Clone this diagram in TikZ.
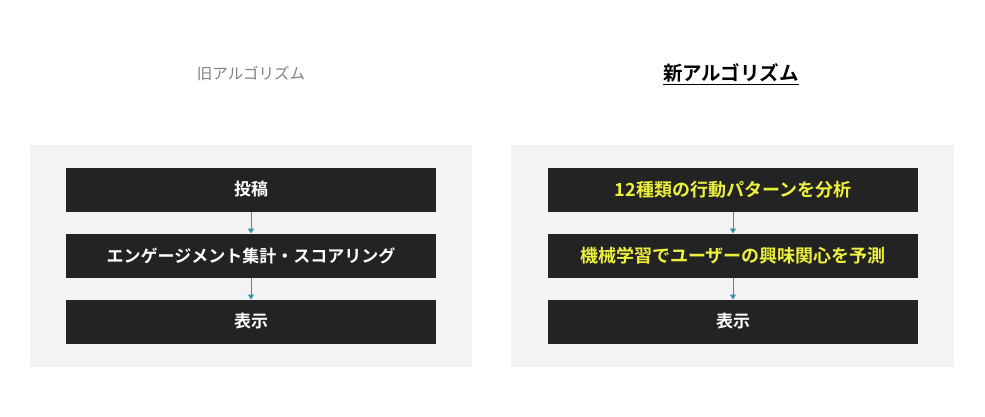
\documentclass[tikz,border=0pt]{standalone}
\usepackage{fontspec}
\setmainfont{Noto Sans CJK JP}[BoldFont={* Bold}]
\usetikzlibrary{arrows.meta}
\definecolor{panelgray}{HTML}{F3F3F3}
\definecolor{boxblack}{HTML}{232323}
\definecolor{hiyellow}{HTML}{EEF03E}
\definecolor{arrowteal}{HTML}{2A97A6}
\definecolor{titlegray}{HTML}{808080}

\begin{document}
\begin{tikzpicture}[x=1pt,y=1pt,node distance=66pt,
                    >={Triangle[length=5pt,width=6pt]},semithick]
\tikzstyle{every node}=[inner sep=0pt,outer sep=0pt]
\tikzstyle{stepbox}=[fill=boxblack,text=white,minimum width=370pt,minimum height=44pt,font=\fontsize{17}{20}\selectfont\bfseries]
\tikzstyle{newbox}=[stepbox,text=hiyellow,font=\fontsize{18}{21}\selectfont\bfseries]
\tikzstyle{flow}=[->,arrowteal,line width=0.8pt]
\useasboundingbox (0,0) rectangle (985,-417);
\fill[panelgray] (30,-145) rectangle (472,-367);
\fill[panelgray] (511,-145) rectangle (954,-367);

\node [text=titlegray,font=\fontsize{15.5}{18}\selectfont] (oldtitle) at (251,-74) {旧アルゴリズム};
\node [font=\fontsize{19.5}{22}\selectfont\bfseries] (newtitle) at (731,-74) {\underline{新アルゴリズム}};

\node [stepbox] (o1) at (251,-189.5) {投稿};
\node [stepbox] [below of=o1] (o2) {エンゲージメント集計・スコアリング};
\node [stepbox] [below of=o2] (o3) {表示};

\node [newbox] (n1) at (733,-189.5) {12種類の行動パターンを分析};
\node [newbox] [below of=n1] (n2) {機械学習でユーザーの興味関心を予測};
\node [stepbox] [below of=n2] (n3) {表示};

\path [flow] (o1) edge (o2) (o2) edge (o3);
\path [flow] (n1) edge (n2) (n2) edge (n3);

\end{tikzpicture}
\end{document}
